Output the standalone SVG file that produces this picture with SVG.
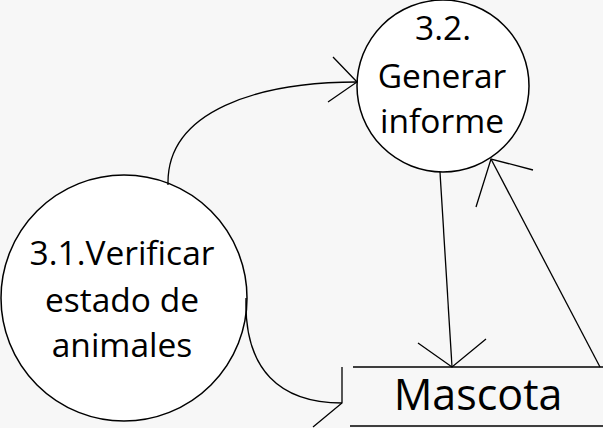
<svg xmlns="http://www.w3.org/2000/svg" width="603" height="428" viewBox="0 0 603 428">
<style>
.node{fill:#fff;stroke:#000;stroke-width:1.5}
.lbl{font-family:"Open Sans","Noto Sans",sans-serif;font-size:33.5px;fill:#000;text-anchor:middle}
.store{font-family:"Open Sans","Noto Sans",sans-serif;font-size:43px;fill:#000;text-anchor:middle}
.c{fill:none;stroke:#000;stroke-width:1.3}
</style>
<rect width="603" height="428" fill="#f7f7f7"/>
<g id="n32">
<circle class="node" cx="443" cy="86" r="86"/>
<text class="lbl" x="443" y="40">3.2.</text>
<text class="lbl" x="442" y="88">Generar</text>
<text class="lbl" x="442" y="133">informe</text>
</g>
<g id="n31">
<circle class="node" cx="124" cy="298" r="123"/>
<text class="lbl" x="122" y="265">3.1.Verificar</text>
<text class="lbl" x="122" y="312">estado de</text>
<text class="lbl" x="122" y="357">animales</text>
</g>
<g id="mascota">
<line class="c" x1="353" y1="367" x2="603" y2="367"/>
<line class="c" x1="350" y1="426" x2="603" y2="426"/>
<text class="store" x="478" y="410">Mascota</text>
</g>
<g id="connectors">
<path class="c" d="M168,185 C166,110 260,82 357,82"/>
<path class="c" d="M333,57 L357,82 L328,102"/>
<path class="c" d="M440,172 L452,367"/>
<path class="c" d="M418,343 L452,367 L486,339"/>
<path class="c" d="M600,367 L491,159"/>
<path class="c" d="M533,170 L491,159 L476,207"/>
<path class="c" d="M246,298 C244,370 280,403 342,403"/>
<path class="c" d="M342,367 L342,403 L313,427"/>
</g>
</svg>
